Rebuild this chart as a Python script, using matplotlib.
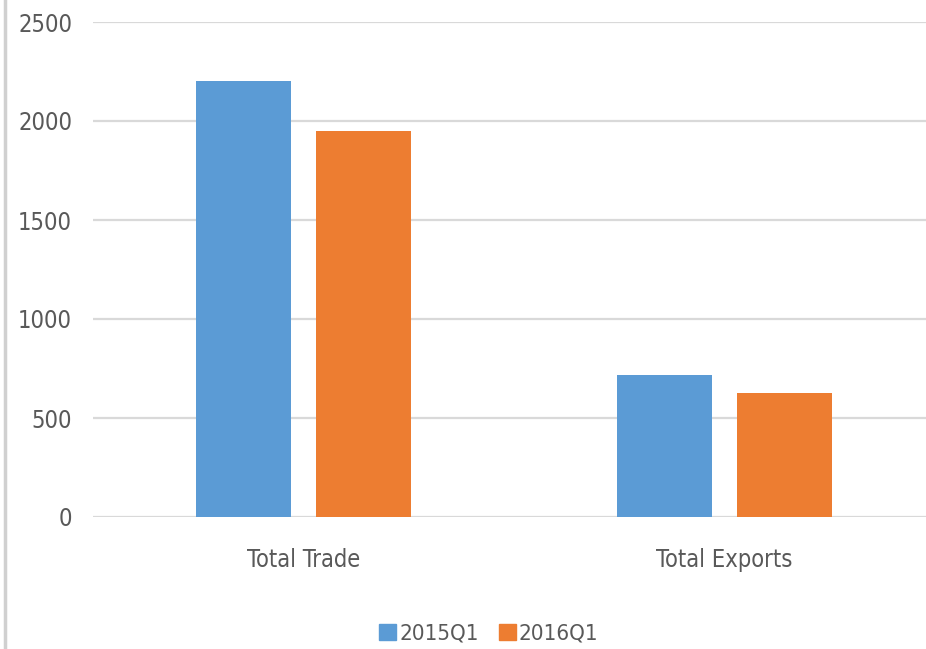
import matplotlib
matplotlib.use('Agg')
import matplotlib.pyplot as plt
from matplotlib.patches import Patch
from matplotlib.lines import Line2D
import numpy as np

plt.rcParams['font.family'] = ['DejaVu Sans']
plt.rcParams['font.stretch'] = 'condensed'

# trade figures by quarter
categories = ['Total Trade', 'Total Exports']
q2015 = [2202, 717]
q2016 = [1949, 626]
series_names = ['2015Q1', '2016Q1']
yticks = [0, 500, 1000, 1500, 2000, 2500]

blue = '#5b9bd5'
orange = '#ed7d31'
text_col = '#595959'
grid_col = '#d9d9d9'

fig = plt.figure(figsize=(9.26, 6.49), dpi=100)
ax = fig.add_axes([93 / 926, 132 / 649, 842 / 926, 495 / 649])

x = np.arange(len(categories))
w = 0.226
off = 0.1425
ax.bar(x - off, q2015, w, color=blue, zorder=3)
ax.bar(x + off, q2016, w, color=orange, zorder=3)

ax.set_xlim(-0.5, 1.5)
ax.set_ylim(0, 2500)
ax.set_yticks(yticks)
ax.set_yticklabels([str(v) for v in yticks])
ax.set_xticks(x)
ax.set_xticklabels(categories)
ax.grid(axis='y', color=grid_col, linewidth=1.6, zorder=0)
for s in ax.spines.values():
    s.set_visible(False)
ax.tick_params(axis='both', length=0, labelsize=17, colors=text_col)
ax.tick_params(axis='y', pad=15)
ax.tick_params(axis='x', pad=22)

# gray frame edge on the left
fig.add_artist(Line2D([5 / 926, 5 / 926], [0, 1], color='#d0d0d0', linewidth=2.5,
                      transform=fig.transFigure))

handles = [Patch(color=blue), Patch(color=orange)]
fig.legend(handles, series_names, loc='center', bbox_to_anchor=(489 / 926, 1 - 634 / 649),
           ncol=2, frameon=False, fontsize=16, labelcolor=text_col,
           handlelength=0.75, handleheight=0.75, handletextpad=0.15,
           columnspacing=0.9, borderpad=0)

fig.savefig('out.png', dpi=100)
